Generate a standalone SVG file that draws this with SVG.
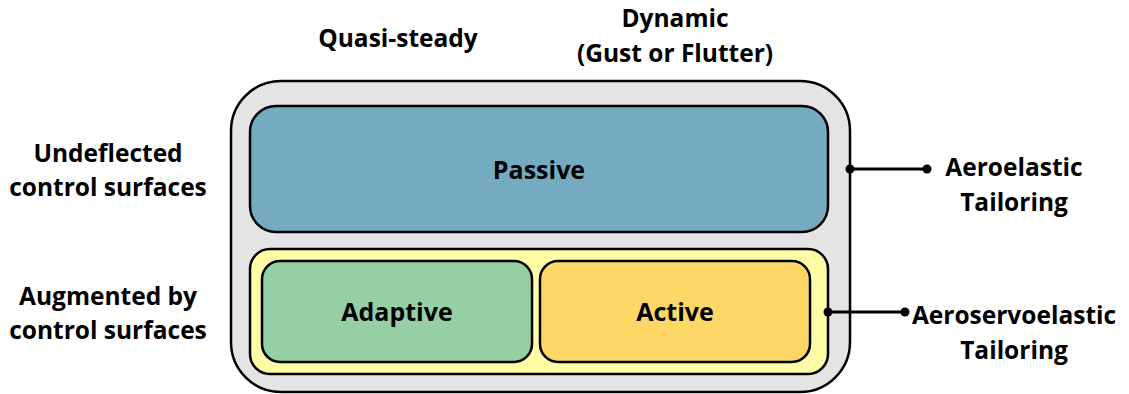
<svg xmlns="http://www.w3.org/2000/svg" width="1129" height="394" viewBox="0 0 1129 394">
<style>
.box{stroke:#000;stroke-width:2.5}
.t{font-family:"Open Sans","Liberation Sans",sans-serif;font-weight:bold;font-size:24.5px;fill:#000;text-anchor:middle}
.n{font-size:25px}
.c{stroke:#000;stroke-width:3;fill:none}
</style>
<g id="labels">
<text class="t" x="398" y="47">Quasi-steady</text>
<text class="t" x="675" y="27">Dynamic</text>
<text class="t" x="675" y="62">(Gust or Flutter)</text>
<text class="t" x="108" y="162">Undeflected</text>
<text class="t" x="108" y="196">control surfaces</text>
<text class="t" x="108" y="305">Augmented by</text>
<text class="t" x="108" y="339">control surfaces</text>
</g>
<g id="outer"><rect class="box" x="231" y="81" width="619" height="311" rx="50" fill="#e4e4e4"/></g>
<g id="passive"><rect class="box" x="250" y="106" width="578" height="126" rx="26" fill="#75abc0"/><text class="t n" x="539" y="179">Passive</text></g>
<g id="controlled"><rect class="box" x="250" y="249" width="578" height="125" rx="20" fill="#fffca6"/></g>
<g id="adaptive"><rect class="box" x="262" y="261" width="270" height="101" rx="18" fill="#95cfa3"/><text class="t n" x="397" y="321">Adaptive</text></g>
<g id="active"><rect class="box" x="540" y="261" width="270" height="101" rx="18" fill="#fdd866"/><text class="t n" x="675" y="321">Active</text></g>
<g id="connectors">
<line class="c" x1="850" y1="169" x2="927" y2="169"/>
<circle cx="850" cy="169" r="4.5"/><circle cx="927" cy="169" r="4.5"/>
<line class="c" x1="828" y1="312" x2="905" y2="312"/>
<circle cx="828" cy="312" r="4.5"/><circle cx="905" cy="312" r="4.5"/>
</g>
<g id="tailoring">
<text class="t" x="1014" y="176">Aeroelastic</text>
<text class="t" x="1014" y="211">Tailoring</text>
<text class="t" x="1014" y="324">Aeroservoelastic</text>
<text class="t" x="1014" y="359">Tailoring</text>
</g>
</svg>
